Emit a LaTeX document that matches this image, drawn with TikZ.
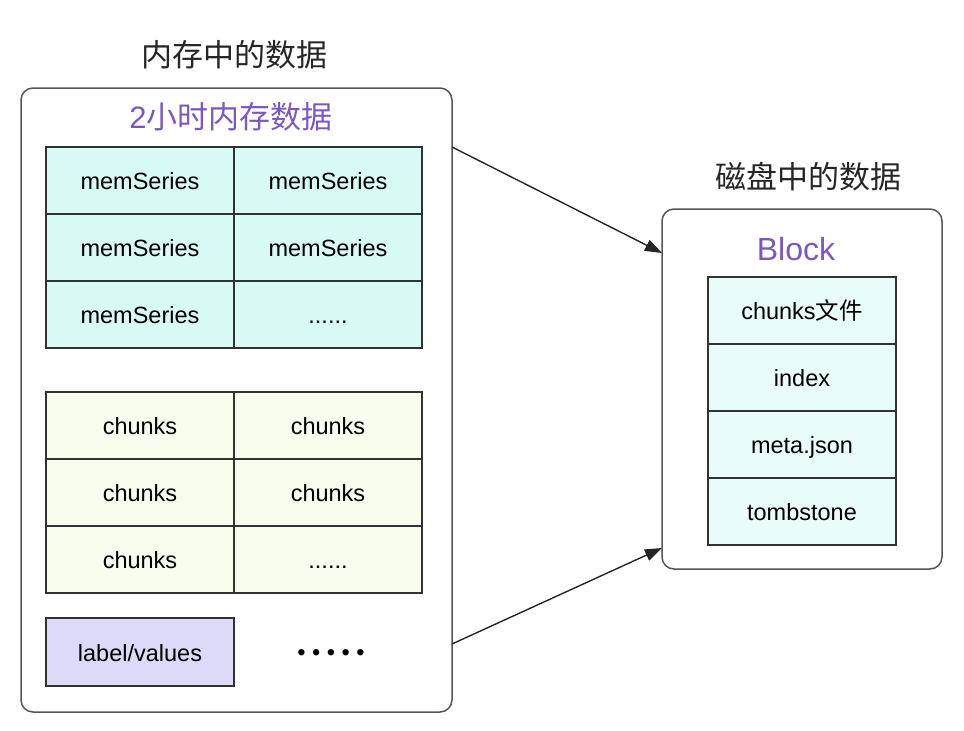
\documentclass[tikz,border=0pt]{standalone}
\usepackage{fontspec}
\setmainfont{Liberation Sans}
\newfontfamily\cjk{Noto Sans CJK SC}
\usetikzlibrary{arrows.meta,calc}
\definecolor{memfill}{RGB}{216,250,245}
\definecolor{chunkfill}{RGB}{249,253,238}
\definecolor{lvfill}{RGB}{220,218,248}
\definecolor{blockfill}{RGB}{232,252,249}
\definecolor{purp}{RGB}{124,87,194}
\definecolor{edge}{RGB}{50,50,50}
\definecolor{outeredge}{RGB}{85,85,85}
\tikzset{
  cell/.style={draw=edge, line width=1.4pt, minimum width=188, minimum height=67,
    inner sep=0pt, outer sep=0pt, text height=18pt, text depth=0pt,
    font=\fontsize{23.5}{27}\selectfont},
  memcell/.style={cell, fill=memfill},
  chunkcell/.style={cell, fill=chunkfill},
  blockcell/.style={cell, fill=blockfill},
  outerbox/.style={draw=outeredge, line width=1.5pt, rounded corners=12pt,
    inner sep=0pt, outer sep=0pt, anchor=north west},
  title/.style={font=\fontsize{31}{36}\selectfont\cjk, text=black!85},
  subtitle/.style={font=\fontsize{31}{36}\selectfont, text=purp},
  conn/.style={draw=black!85, line width=1.4pt, -{Triangle[length=17pt,width=12pt]}}
}
\begin{document}
\begin{tikzpicture}[x=1pt,y=-1pt]
\useasboundingbox (0,0) rectangle (964,731);
% outer boxes
\node[outerbox, minimum width=431, minimum height=624] (mem) at (21,88) {};
\node[outerbox, minimum width=280, minimum height=360] (disk) at (662,209) {};
% titles
\node[title] (memtitle) at (234,55) {内存中的数据};
\node[subtitle] (memsub) at (231,117) {2{\cjk 小时内存数据}};
\node[title] (disktitle) at (808,177) {磁盘中的数据};
\node[subtitle, font=\fontsize{32}{36}\selectfont] (blocktitle) at (796,249) {Block};
% memSeries table
\node[memcell] (m11) at (140,180.5) {memSeries};
\node[memcell] (m12) at (328,180.5) {memSeries};
\node[memcell] (m21) at (140,247.5) {memSeries};
\node[memcell] (m22) at (328,247.5) {memSeries};
\node[memcell] (m31) at (140,314.5) {memSeries};
\node[memcell] (m32) at (328,314.5) {......};
% chunks table
\node[chunkcell] (c11) at (140,425.5) {chunks};
\node[chunkcell] (c12) at (328,425.5) {chunks};
\node[chunkcell] (c21) at (140,492.5) {chunks};
\node[chunkcell] (c22) at (328,492.5) {chunks};
\node[chunkcell] (c31) at (140,559.5) {chunks};
\node[chunkcell] (c32) at (328,559.5) {......};
% label/values
\node[cell, fill=lvfill, minimum height=68] (lv) at (140,652) {label/values};
\node[font=\fontsize{23.5}{27}\selectfont] (dots) at (331,655) {• • • • •};
% block stack
\node[blockcell] (b1) at (802,310.5) {chunks{\cjk 文件}};
\node[blockcell] (b2) at (802,377.5) {index};
\node[blockcell] (b3) at (802,444.5) {meta.json};
\node[blockcell] (b4) at (802,511.5) {tombstone};
% connectors
\coordinate (s1) at ($(mem.north east)+(0,59)$);
\coordinate (e1) at ($(disk.north west)+(0,44)$);
\coordinate (s2) at ($(mem.south east)+(0,-68)$);
\coordinate (e2) at ($(disk.south west)+(0,-21)$);
\draw[conn] (s1) -- (e1);
\draw[conn] (s2) -- (e2);
\end{tikzpicture}
\end{document}
